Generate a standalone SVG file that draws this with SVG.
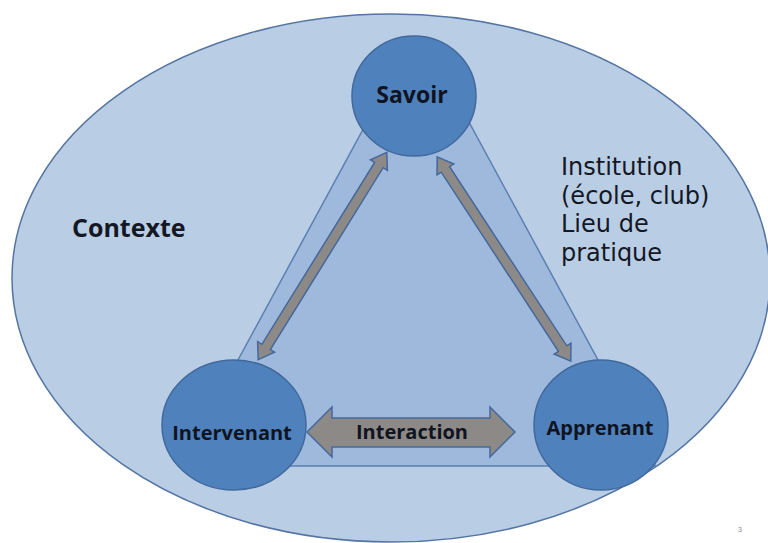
<svg xmlns="http://www.w3.org/2000/svg" width="768" height="543" viewBox="0 0 768 543">
<defs>
<style>
.node{fill:#4f81bd;stroke:#41699c;stroke-width:1.5}
.arrow{fill:#8c8986;stroke:#44689c;stroke-width:1.5;stroke-linejoin:miter}
.lbl{font-family:"Open Sans","Liberation Sans",sans-serif;font-weight:700;fill:#0f1420;text-anchor:middle}
.ctx{font-family:"Open Sans","Liberation Sans",sans-serif;fill:#141824}
.inst{font-family:"DejaVu Sans","Open Sans",sans-serif;fill:#141824;font-size:24px}
</style>
<path id="darrow" d="M-122 0 L-107 -10 L-107 -5 L107 -5 L107 -10 L122 0 L107 10 L107 5 L-107 5 L-107 10 Z"/>
</defs>
<rect width="768" height="543" fill="#ffffff"/>
<g id="contexte">
<ellipse cx="391" cy="278" rx="379" ry="264" fill="#b9cde5" stroke="#5475a3" stroke-width="1.5"/>
<text class="ctx" x="72" y="237" font-size="25" font-weight="700">Contexte</text>
<text class="inst" x="561" y="175">Institution</text>
<text class="inst" x="561" y="203.5">(école, club)</text>
<text class="inst" x="561" y="232">Lieu de</text>
<text class="inst" x="561" y="260.5">pratique</text>
</g>
<g id="institution">
<polygon points="379,100 457,100 655.5,466 180.5,466" fill="#9fb9dd" stroke="#5b7fb0" stroke-width="1.5"/>
</g>
<g id="savoir">
<ellipse class="node" cx="414" cy="96" rx="62" ry="60"/>
<text class="lbl" x="412" y="103" font-size="23">Savoir</text>
</g>
<g id="intervenant">
<ellipse class="node" cx="234" cy="425" rx="72" ry="65"/>
<text class="lbl" x="232" y="440" font-size="20">Intervenant</text>
</g>
<g id="apprenant">
<ellipse class="node" cx="601" cy="425" rx="67" ry="65"/>
<text class="lbl" x="600" y="435" font-size="20">Apprenant</text>
</g>
<g id="connectors">
<use href="#darrow" class="arrow" transform="translate(322.5 256) rotate(121.8)"/>
<use href="#darrow" class="arrow" transform="translate(504 259) rotate(56.8)"/>
<path class="arrow" d="M307 432 L332 407 L332 418 L490 418 L490 407 L515 432 L490 457 L490 447 L332 447 L332 457 Z"/>
<text class="lbl" x="412" y="439" font-size="20">Interaction</text>
</g>
<text x="738" y="532" font-family="Liberation Sans,sans-serif" font-size="7" fill="#8a8a8a">3</text>
</svg>
